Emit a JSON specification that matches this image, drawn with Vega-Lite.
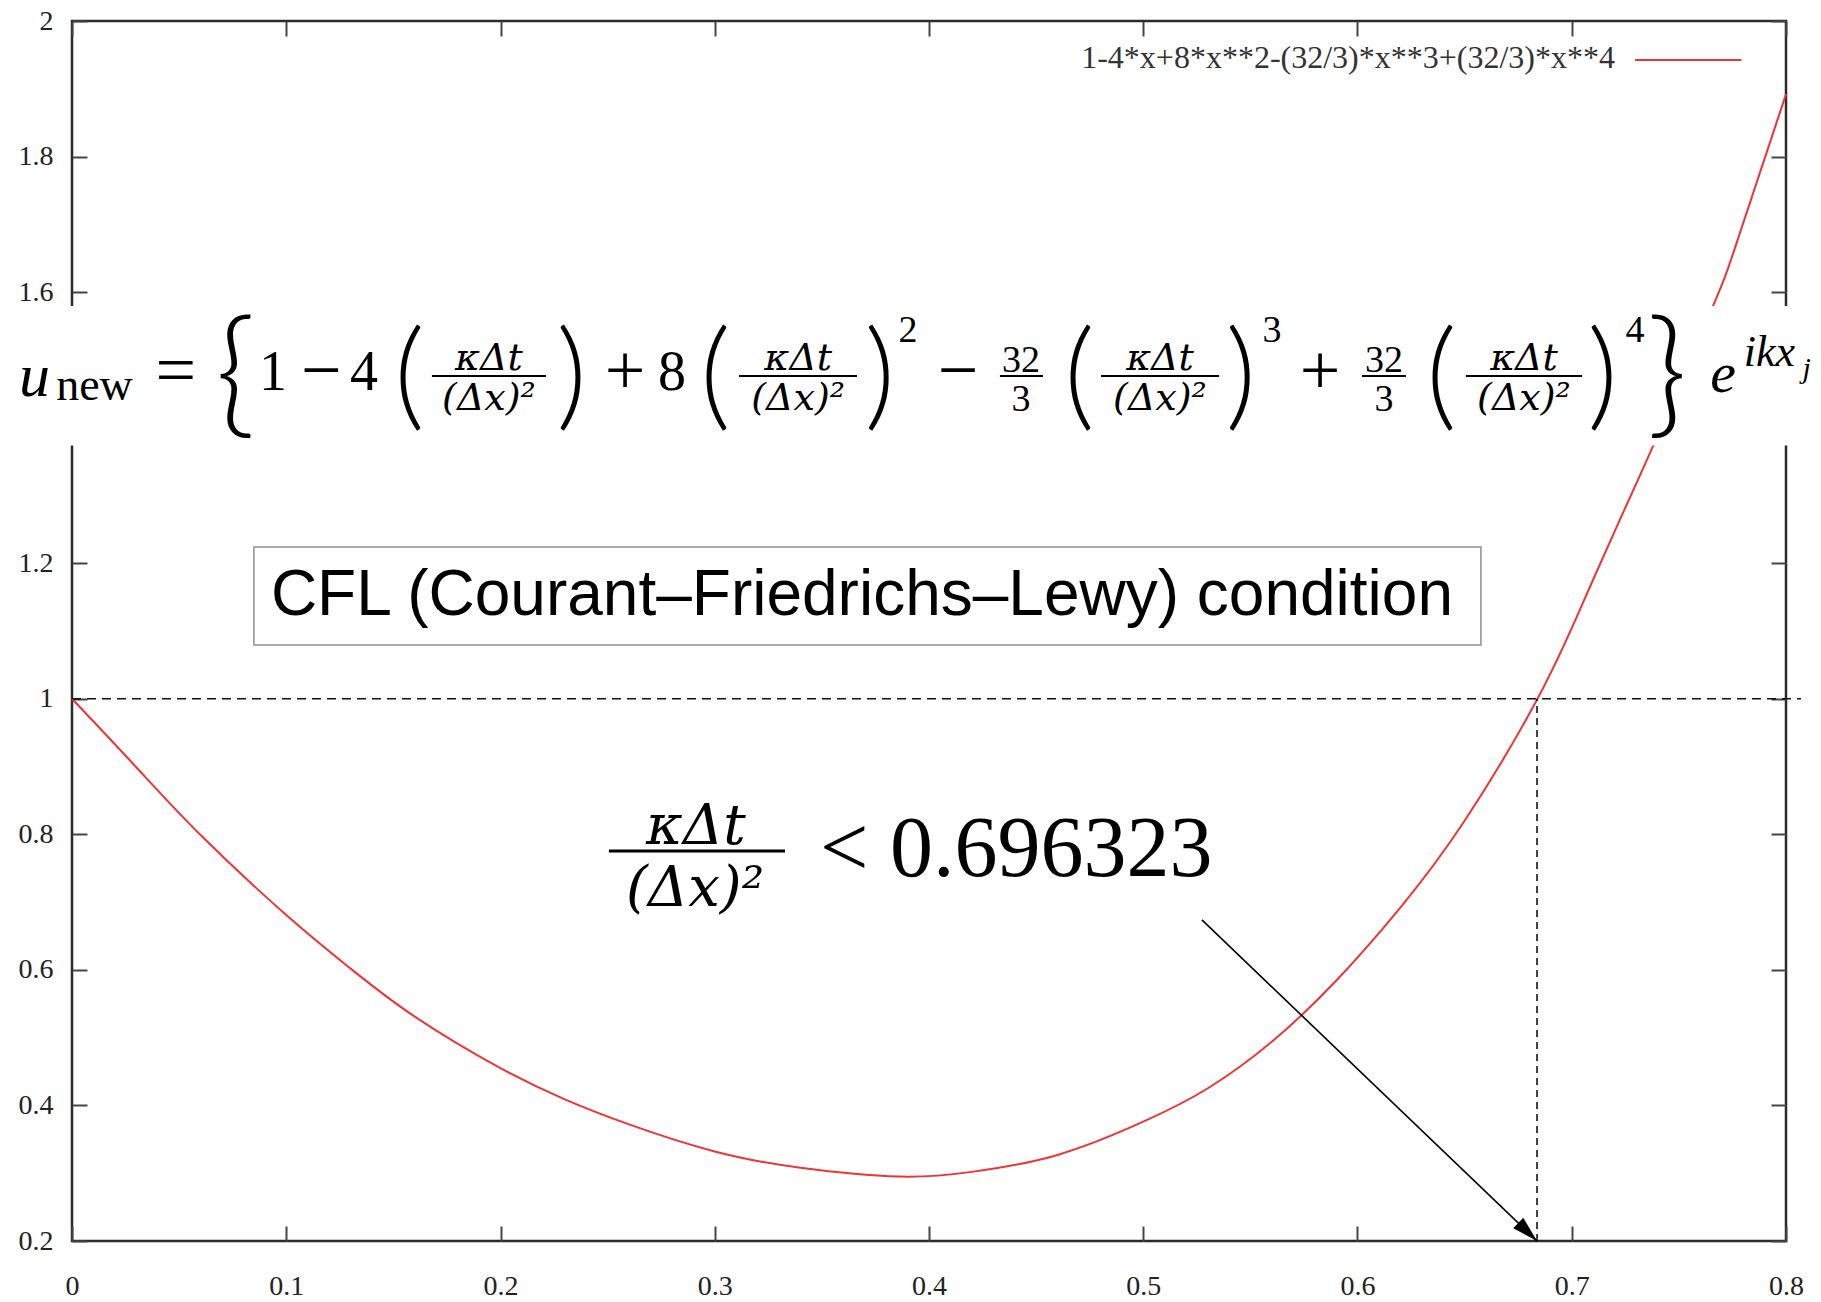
{
  "$schema": "https://vega.github.io/schema/vega-lite/v6.json",
  "width": 1714,
  "height": 1220,
  "autosize": {"type": "none"},
  "padding": {"left": 72, "top": 21, "right": 35, "bottom": 61},
  "background": "white",
  "config": {
    "view": {"stroke": "#2b2b2b", "strokeWidth": 2.5},
    "axis": {
      "domain": false, "grid": false, "ticks": true, "tickSize": -15, "tickWidth": 2, "tickColor": "#444",
      "labelFont": "Liberation Serif", "labelFontSize": 28, "labelColor": "#222", "title": null,
      "labelFlush": false, "labelOverlap": false
    }
  },
  "datasets": {
    "curve": [
      {"x": 0, "y": 1.0}, {"x": 0.03, "y": 0.899}, {"x": 0.06, "y": 0.799}, {"x": 0.10, "y": 0.681},
      {"x": 0.13, "y": 0.602}, {"x": 0.16, "y": 0.531}, {"x": 0.20, "y": 0.455}, {"x": 0.23, "y": 0.409},
      {"x": 0.26, "y": 0.372}, {"x": 0.30, "y": 0.332}, {"x": 0.34, "y": 0.308}, {"x": 0.386, "y": 0.295},
      {"x": 0.42, "y": 0.302}, {"x": 0.46, "y": 0.327}, {"x": 0.50, "y": 0.376}, {"x": 0.53, "y": 0.425},
      {"x": 0.56, "y": 0.494}, {"x": 0.59, "y": 0.584}, {"x": 0.62, "y": 0.692}, {"x": 0.65, "y": 0.82},
      {"x": 0.684, "y": 1.0}, {"x": 0.705, "y": 1.14}, {"x": 0.723, "y": 1.268}, {"x": 0.741, "y": 1.395},
      {"x": 0.766, "y": 1.58}, {"x": 0.777, "y": 1.673}, {"x": 0.8, "y": 1.892}
    ],
    "hline": [{"x": 0, "x2": 0.807, "y": 1}],
    "vline": [{"x": 0.6838, "y": 0.2, "y2": 1}],
    "arrow": [{"x": 0.5274, "y": 0.6737, "x2": 0.6838, "y2": 0.2}],
    "arrowhead": [{"x": 0.6838, "y": 0.2}],
    "cflbox": [{"x": 0.0849, "x2": 0.6576, "y": 1.0794, "y2": 1.224}],
    "cfltext": [{"x": 0.3687, "y": 1.1236, "t": "CFL (Courant–Friedrichs–Lewy) condition"}],
    "ineqfrac": [{"x": 0.2912, "y": 0.7858, "t": "κΔt"}, {"x": 0.2908, "y": 0.6943, "t": "(Δx)²"}],
    "ineqbar": [{"x": 0.2506, "x2": 0.3328, "y": 0.7754}],
    "ineqnum": [{"x": 0.3491, "y": 0.7386, "t": "< 0.696323"}],
    "legtext": [{"x": 0.7202, "y": 1.9307, "t": "1-4*x+8*x**2-(32/3)*x**3+(32/3)*x**4"}],
    "legline": [{"x": 0.7295, "x2": 0.7792, "y": 1.9425}],
    "band": [{"x": -0.04, "x2": 0.82, "y": 1.3737, "y2": 1.5795}],
    "eqdigits": [
      {"x": 0.0938, "y": 1.4556, "t": "1"}, {"x": 0.1363, "y": 1.4556, "t": "4"}, {"x": 0.28, "y": 1.4556, "t": "8"}
    ],
    "eqops": [
      {"x": 0.0485, "y": 1.4497, "t": "="}, {"x": 0.1163, "y": 1.4497, "t": "−"},
      {"x": 0.2581, "y": 1.4497, "t": "+"}, {"x": 0.4135, "y": 1.4497, "t": "−"}, {"x": 0.5825, "y": 1.4497, "t": "+"}
    ],
    "equ": [{"x": -0.0175, "y": 1.4467, "t": "u"}],
    "eqnew": [{"x": 0.0105, "y": 1.4408, "t": "new"}],
    "eqfrac": [
      {"x": 0.1946, "y": 1.4851, "t": "κΔt"}, {"x": 0.1946, "y": 1.4261, "t": "(Δx)²"},
      {"x": 0.3389, "y": 1.4851, "t": "κΔt"}, {"x": 0.3389, "y": 1.4261, "t": "(Δx)²"},
      {"x": 0.5078, "y": 1.4851, "t": "κΔt"}, {"x": 0.5078, "y": 1.4261, "t": "(Δx)²"},
      {"x": 0.6777, "y": 1.4851, "t": "κΔt"}, {"x": 0.6777, "y": 1.4261, "t": "(Δx)²"}
    ],
    "eqsmall": [
      {"x": 0.3902, "y": 1.5264, "t": "2"}, {"x": 0.5601, "y": 1.5264, "t": "3"}, {"x": 0.7295, "y": 1.5264, "t": "4"},
      {"x": 0.4429, "y": 1.4822, "t": "32"}, {"x": 0.4429, "y": 1.4246, "t": "3"},
      {"x": 0.6124, "y": 1.4822, "t": "32"}, {"x": 0.6124, "y": 1.4246, "t": "3"}
    ],
    "eqparen": [
      {"x": 0.1575, "y": 1.4187, "t": "("}, {"x": 0.2332, "y": 1.4187, "t": ")"},
      {"x": 0.3003, "y": 1.4187, "t": "("}, {"x": 0.377, "y": 1.4187, "t": ")"},
      {"x": 0.4702, "y": 1.4187, "t": "("}, {"x": 0.5455, "y": 1.4187, "t": ")"},
      {"x": 0.6391, "y": 1.4187, "t": "("}, {"x": 0.7144, "y": 1.4187, "t": ")"}
    ],
    "eqbrace": [{"x": 0.0762, "y": 1.4113, "t": "{"}, {"x": 0.7445, "y": 1.4113, "t": "}"}],
    "eqbars": [
      {"x": 0.168, "x2": 0.2212, "y": 1.4762}, {"x": 0.3113, "x2": 0.3664, "y": 1.4762},
      {"x": 0.4803, "x2": 0.5354, "y": 1.4762}, {"x": 0.6506, "x2": 0.7048, "y": 1.4762},
      {"x": 0.4331, "x2": 0.4532, "y": 1.4762}, {"x": 0.6021, "x2": 0.6226, "y": 1.4762}
    ],
    "eqe": [{"x": 0.7706, "y": 1.4526, "t": "e"}],
    "eqikx": [{"x": 0.7923, "y": 1.491, "t": "ikx"}],
    "eqj": [{"x": 0.8096, "y": 1.4733, "t": "j"}]
  },
  "layer": [
    {
      "data": {"name": "curve"},
      "mark": {"type": "line", "color": "#ee3535", "strokeWidth": 2, "interpolate": "natural"},
      "encoding": {
        "x": {"field": "x", "type": "quantitative", "scale": {"domain": [0, 0.8], "nice": false, "zero": false},
              "axis": {"orient": "bottom", "values": [0, 0.1, 0.2, 0.3, 0.4, 0.5, 0.6, 0.7, 0.8], "format": "~g", "labelPadding": 46, "labelFont": "Liberation Serif", "labelFontSize": 28}},
        "y": {"field": "y", "type": "quantitative", "scale": {"domain": [0.2, 2], "nice": false, "zero": false},
              "axis": {"orient": "left", "values": [0.2, 0.4, 0.6, 0.8, 1, 1.2, 1.4, 1.6, 1.8, 2], "format": "~g", "labelPadding": 34, "labelFont": "Liberation Serif", "labelFontSize": 28}}
      }
    },
    {
      "data": {"name": "curve"},
      "mark": {"type": "line", "strokeOpacity": 0},
      "encoding": {
        "x": {"field": "x", "type": "quantitative", "axis": {"orient": "top", "values": [0, 0.1, 0.2, 0.3, 0.4, 0.5, 0.6, 0.7, 0.8], "labels": false}},
        "y": {"field": "y", "type": "quantitative", "axis": {"orient": "right", "values": [0.2, 0.4, 0.6, 0.8, 1, 1.2, 1.4, 1.6, 1.8, 2], "labels": false}}
      }
    },
    {
      "data": {"name": "hline"},
      "mark": {"type": "rule", "color": "#111", "strokeWidth": 1.6, "strokeDash": [9, 6]},
      "encoding": {
        "x": {"field": "x", "type": "quantitative", "axis": null}, "x2": {"field": "x2"},
        "y": {"field": "y", "type": "quantitative", "axis": null}
      }
    },
    {
      "data": {"name": "vline"},
      "mark": {"type": "rule", "color": "#111", "strokeWidth": 1.6, "strokeDash": [7, 5]},
      "encoding": {
        "x": {"field": "x", "type": "quantitative", "axis": null},
        "y": {"field": "y", "type": "quantitative", "axis": null}, "y2": {"field": "y2"}
      }
    },
    {
      "data": {"name": "arrow"},
      "mark": {"type": "rule", "color": "#000", "strokeWidth": 1.6},
      "encoding": {
        "x": {"field": "x", "type": "quantitative", "axis": null}, "x2": {"field": "x2"},
        "y": {"field": "y", "type": "quantitative", "axis": null}, "y2": {"field": "y2"}
      }
    },
    {
      "data": {"name": "arrowhead"},
      "mark": {"type": "point", "shape": "M0,0L-0.28,1L0.28,1Z", "angle": 133.7, "size": 2700, "filled": true, "color": "#000", "opacity": 1, "strokeWidth": 0},
      "encoding": {
        "x": {"field": "x", "type": "quantitative", "axis": null},
        "y": {"field": "y", "type": "quantitative", "axis": null}
      }
    },
    {
      "data": {"name": "cflbox"},
      "mark": {"type": "rect", "fill": "white", "stroke": "#8f8f8f", "strokeWidth": 1.5},
      "encoding": {
        "x": {"field": "x", "type": "quantitative", "axis": null}, "x2": {"field": "x2"},
        "y": {"field": "y", "type": "quantitative", "axis": null}, "y2": {"field": "y2"}
      }
    },
    {
      "data": {"name": "cfltext"},
      "mark": {"type": "text", "font": "Liberation Sans", "fontSize": 64, "align": "center", "baseline": "alphabetic", "color": "#000"},
      "encoding": {
        "x": {"field": "x", "type": "quantitative", "axis": null},
        "y": {"field": "y", "type": "quantitative", "axis": null},
        "text": {"field": "t"}
      }
    },
    {
      "data": {"name": "ineqfrac"},
      "mark": {"type": "text", "font": "DejaVu Serif", "fontStyle": "italic", "fontSize": 56, "align": "center", "baseline": "alphabetic", "color": "#000"},
      "encoding": {
        "x": {"field": "x", "type": "quantitative", "axis": null},
        "y": {"field": "y", "type": "quantitative", "axis": null},
        "text": {"field": "t"}
      }
    },
    {
      "data": {"name": "ineqbar"},
      "mark": {"type": "rule", "color": "#000", "strokeWidth": 3},
      "encoding": {
        "x": {"field": "x", "type": "quantitative", "axis": null}, "x2": {"field": "x2"},
        "y": {"field": "y", "type": "quantitative", "axis": null}
      }
    },
    {
      "data": {"name": "ineqnum"},
      "mark": {"type": "text", "font": "Liberation Serif", "fontSize": 86, "align": "left", "baseline": "alphabetic", "color": "#000"},
      "encoding": {
        "x": {"field": "x", "type": "quantitative", "axis": null},
        "y": {"field": "y", "type": "quantitative", "axis": null},
        "text": {"field": "t"}
      }
    },
    {
      "data": {"name": "legtext"},
      "mark": {"type": "text", "font": "Liberation Serif", "fontSize": 32, "align": "right", "baseline": "alphabetic", "color": "#333"},
      "encoding": {
        "x": {"field": "x", "type": "quantitative", "axis": null},
        "y": {"field": "y", "type": "quantitative", "axis": null},
        "text": {"field": "t"}
      }
    },
    {
      "data": {"name": "legline"},
      "mark": {"type": "rule", "color": "#ee3535", "strokeWidth": 2},
      "encoding": {
        "x": {"field": "x", "type": "quantitative", "axis": null}, "x2": {"field": "x2"},
        "y": {"field": "y", "type": "quantitative", "axis": null}
      }
    },
    {
      "data": {"name": "band"},
      "mark": {"type": "rect", "fill": "white", "strokeWidth": 0},
      "encoding": {
        "x": {"field": "x", "type": "quantitative", "axis": null}, "x2": {"field": "x2"},
        "y": {"field": "y", "type": "quantitative", "axis": null}, "y2": {"field": "y2"}
      }
    },
    {
      "data": {"name": "eqdigits"},
      "mark": {"type": "text", "font": "Liberation Serif", "fontSize": 56, "align": "center", "baseline": "alphabetic", "color": "#000"},
      "encoding": {
        "x": {"field": "x", "type": "quantitative", "axis": null},
        "y": {"field": "y", "type": "quantitative", "axis": null},
        "text": {"field": "t"}
      }
    },
    {
      "data": {"name": "eqops"},
      "mark": {"type": "text", "font": "Liberation Serif", "fontSize": 72, "align": "center", "baseline": "alphabetic", "color": "#000"},
      "encoding": {
        "x": {"field": "x", "type": "quantitative", "axis": null},
        "y": {"field": "y", "type": "quantitative", "axis": null},
        "text": {"field": "t"}
      }
    },
    {
      "data": {"name": "equ"},
      "mark": {"type": "text", "font": "Liberation Serif", "fontStyle": "italic", "fontSize": 62, "align": "center", "baseline": "alphabetic", "color": "#000"},
      "encoding": {
        "x": {"field": "x", "type": "quantitative", "axis": null},
        "y": {"field": "y", "type": "quantitative", "axis": null},
        "text": {"field": "t"}
      }
    },
    {
      "data": {"name": "eqnew"},
      "mark": {"type": "text", "font": "Liberation Serif", "fontSize": 46, "align": "center", "baseline": "alphabetic", "color": "#000"},
      "encoding": {
        "x": {"field": "x", "type": "quantitative", "axis": null},
        "y": {"field": "y", "type": "quantitative", "axis": null},
        "text": {"field": "t"}
      }
    },
    {
      "data": {"name": "eqfrac"},
      "mark": {"type": "text", "font": "DejaVu Serif", "fontStyle": "italic", "fontSize": 38, "align": "center", "baseline": "alphabetic", "color": "#000"},
      "encoding": {
        "x": {"field": "x", "type": "quantitative", "axis": null},
        "y": {"field": "y", "type": "quantitative", "axis": null},
        "text": {"field": "t"}
      }
    },
    {
      "data": {"name": "eqsmall"},
      "mark": {"type": "text", "font": "Liberation Serif", "fontSize": 38, "align": "center", "baseline": "alphabetic", "color": "#000"},
      "encoding": {
        "x": {"field": "x", "type": "quantitative", "axis": null},
        "y": {"field": "y", "type": "quantitative", "axis": null},
        "text": {"field": "t"}
      }
    },
    {
      "data": {"name": "eqparen"},
      "mark": {"type": "text", "font": "Lato", "fontWeight": 300, "fontSize": 119, "align": "center", "baseline": "alphabetic", "color": "#000"},
      "encoding": {
        "x": {"field": "x", "type": "quantitative", "axis": null},
        "y": {"field": "y", "type": "quantitative", "axis": null},
        "text": {"field": "t"}
      }
    },
    {
      "data": {"name": "eqbrace"},
      "mark": {"type": "text", "font": "Lato", "fontWeight": 300, "fontSize": 138, "align": "center", "baseline": "alphabetic", "color": "#000"},
      "encoding": {
        "x": {"field": "x", "type": "quantitative", "axis": null},
        "y": {"field": "y", "type": "quantitative", "axis": null},
        "text": {"field": "t"}
      }
    },
    {
      "data": {"name": "eqbars"},
      "mark": {"type": "rule", "color": "#000", "strokeWidth": 2},
      "encoding": {
        "x": {"field": "x", "type": "quantitative", "axis": null}, "x2": {"field": "x2"},
        "y": {"field": "y", "type": "quantitative", "axis": null}
      }
    },
    {
      "data": {"name": "eqe"},
      "mark": {"type": "text", "font": "Liberation Serif", "fontStyle": "italic", "fontSize": 58, "align": "center", "baseline": "alphabetic", "color": "#000"},
      "encoding": {
        "x": {"field": "x", "type": "quantitative", "axis": null},
        "y": {"field": "y", "type": "quantitative", "axis": null},
        "text": {"field": "t"}
      }
    },
    {
      "data": {"name": "eqikx"},
      "mark": {"type": "text", "font": "Liberation Serif", "fontStyle": "italic", "fontSize": 44, "align": "center", "baseline": "alphabetic", "color": "#000"},
      "encoding": {
        "x": {"field": "x", "type": "quantitative", "axis": null},
        "y": {"field": "y", "type": "quantitative", "axis": null},
        "text": {"field": "t"}
      }
    },
    {
      "data": {"name": "eqj"},
      "mark": {"type": "text", "font": "Liberation Serif", "fontStyle": "italic", "fontSize": 30, "align": "center", "baseline": "alphabetic", "color": "#000"},
      "encoding": {
        "x": {"field": "x", "type": "quantitative", "axis": null},
        "y": {"field": "y", "type": "quantitative", "axis": null},
        "text": {"field": "t"}
      }
    }
  ],
  "resolve": {"axis": {"x": "independent", "y": "independent"}}
}
